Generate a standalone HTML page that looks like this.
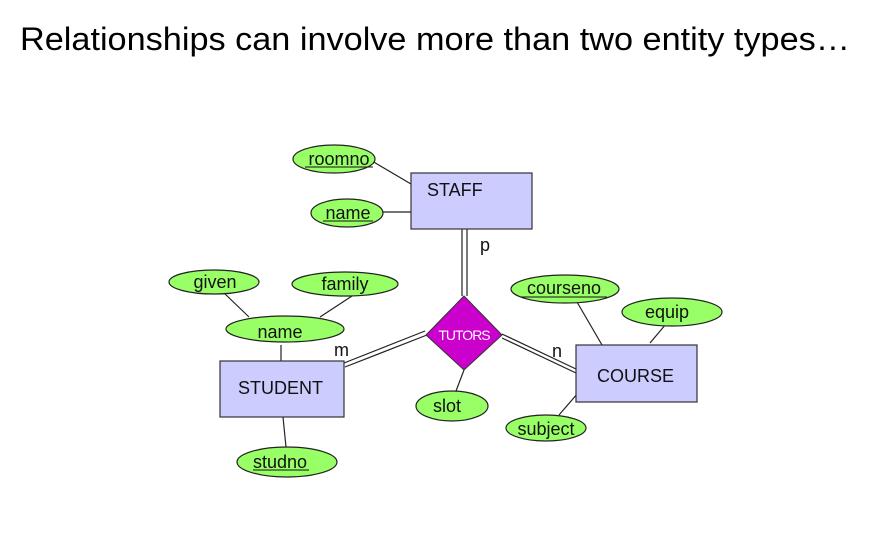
<!DOCTYPE html>
<html><head><meta charset="utf-8"><style>
html,body{margin:0;padding:0;background:#fff;}
svg{display:block;}
text{font-family:"Liberation Sans",Arial,sans-serif;}
</style></head><body>
<svg width="872" height="539" viewBox="0 0 872 539" xmlns="http://www.w3.org/2000/svg">
<text x="20" y="50" font-size="32" textLength="830" lengthAdjust="spacingAndGlyphs" fill="#000">Relationships can involve more than two entity types…</text>
<g stroke="#222" stroke-width="1.2" fill="none">
<line x1="372" y1="161" x2="411" y2="184"/>
<line x1="383" y1="212" x2="411" y2="212"/>
<line x1="224" y1="293" x2="249" y2="317"/>
<line x1="352" y1="296" x2="320" y2="317"/>
<line x1="281" y1="345" x2="281" y2="361"/>
<line x1="283" y1="417" x2="286" y2="447"/>
<line x1="464" y1="370" x2="456" y2="391"/>
<line x1="577" y1="302" x2="602" y2="345"/>
<line x1="666" y1="324" x2="650" y2="343"/>
<line x1="578" y1="393" x2="559" y2="415"/>
<line x1="462" y1="229" x2="462" y2="296"/>
<line x1="467" y1="229" x2="467" y2="296"/>
<line x1="344" y1="363" x2="425" y2="331"/>
<line x1="345" y1="367" x2="427" y2="335"/>
<line x1="502" y1="334" x2="576" y2="369"/>
<line x1="502" y1="338" x2="576" y2="373"/>
</g>
<g stroke="#333" stroke-width="1.2" fill="#ccccff">
<rect x="411" y="173" width="121" height="56"/>
<rect x="220" y="361" width="124" height="56"/>
<rect x="576" y="345" width="121" height="57"/>
</g>
<polygon points="464,296 502,335 464,370 426,335" fill="#cc00cc" stroke="#333" stroke-width="1"/>
<text x="464" y="340" font-size="14" fill="#fff" text-anchor="middle" letter-spacing="-1">TUTORS</text>
<g font-size="18" fill="#111">
<text x="427" y="196">STAFF</text>
<text x="238" y="394">STUDENT</text>
<text x="597" y="382">COURSE</text>
<text x="480" y="251">p</text>
<text x="334" y="356">m</text>
<text x="552" y="357">n</text>
</g>
<g fill="#99ff66" stroke="#222" stroke-width="1.2">
<ellipse cx="334" cy="159" rx="41" ry="14"/>
<ellipse cx="347" cy="213" rx="36" ry="14"/>
<ellipse cx="214" cy="282" rx="45" ry="12"/>
<ellipse cx="345" cy="284" rx="53" ry="12"/>
<ellipse cx="285" cy="329" rx="59" ry="13"/>
<ellipse cx="287" cy="462" rx="50" ry="15"/>
<ellipse cx="452" cy="406" rx="36" ry="15"/>
<ellipse cx="546" cy="428" rx="40" ry="13"/>
<ellipse cx="565" cy="289" rx="54" ry="14"/>
<ellipse cx="672" cy="312" rx="50" ry="14"/>
</g>
<g font-size="18" fill="#111" text-anchor="middle">
<text x="339" y="165">roomno</text>
<text x="348" y="219">name</text>
<text x="215" y="288">given</text>
<text x="345" y="290">family</text>
<text x="280" y="338">name</text>
<text x="280" y="468">studno</text>
<text x="447" y="412">slot</text>
<text x="546" y="435">subject</text>
<text x="564" y="294">courseno</text>
<text x="667" y="318">equip</text>
</g>
<g stroke="#111" stroke-width="1">
<line x1="305" y1="167" x2="373" y2="167"/>
<line x1="323" y1="221" x2="373" y2="221"/>
<line x1="253" y1="470" x2="309" y2="470"/>
<line x1="521" y1="297" x2="607" y2="297"/>
</g>
</svg>
</body></html>
